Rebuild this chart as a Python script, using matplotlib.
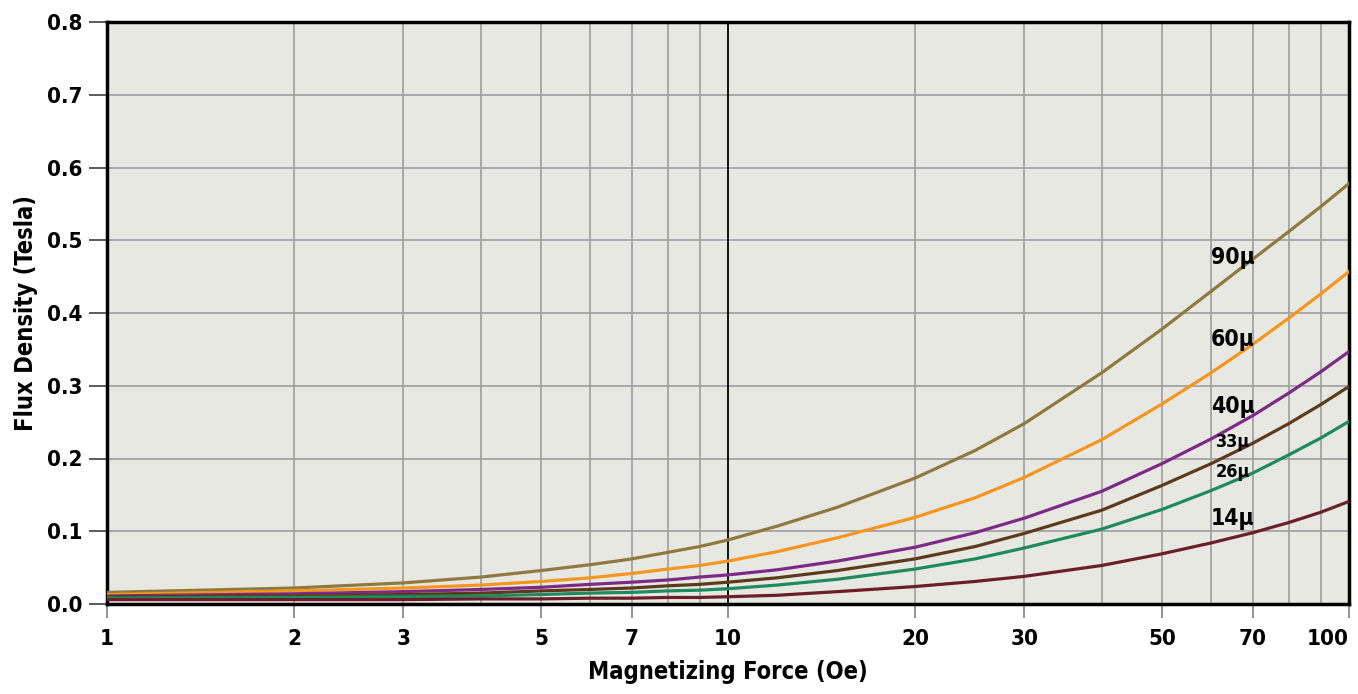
import numpy as np
import matplotlib.pyplot as plt
from matplotlib.ticker import FixedLocator, NullFormatter

# magnetizing force (Oe) sample points
H = [1, 2, 3, 4, 5, 6, 7, 8, 9, 10, 12, 15, 20, 25, 30, 40, 50, 60, 70, 80, 90, 100]

# flux density (Tesla)
B_90 = [0.016, 0.022, 0.029, 0.037, 0.046, 0.054, 0.062, 0.071, 0.079, 0.088, 0.107, 0.133,
        0.173, 0.211, 0.248, 0.318, 0.378, 0.430, 0.474, 0.512, 0.546, 0.578]
B_60 = [0.013, 0.018, 0.022, 0.026, 0.031, 0.036, 0.042, 0.048, 0.053, 0.059, 0.072, 0.091,
        0.119, 0.146, 0.174, 0.226, 0.275, 0.318, 0.357, 0.393, 0.426, 0.457]
B_40 = [0.011, 0.014, 0.017, 0.020, 0.023, 0.027, 0.030, 0.033, 0.037, 0.040, 0.047, 0.059,
        0.078, 0.098, 0.118, 0.155, 0.193, 0.227, 0.259, 0.290, 0.319, 0.347]
B_33 = [0.010, 0.011, 0.013, 0.015, 0.018, 0.020, 0.022, 0.025, 0.027, 0.030, 0.036, 0.046,
        0.062, 0.079, 0.097, 0.129, 0.163, 0.193, 0.221, 0.248, 0.274, 0.299]
B_26 = [0.008, 0.009, 0.010, 0.011, 0.013, 0.015, 0.016, 0.018, 0.019, 0.021, 0.026, 0.034,
        0.048, 0.062, 0.077, 0.103, 0.130, 0.156, 0.180, 0.205, 0.228, 0.251]
B_14 = [0.006, 0.006, 0.006, 0.007, 0.007, 0.008, 0.008, 0.009, 0.009, 0.010, 0.012, 0.017,
        0.024, 0.031, 0.038, 0.053, 0.069, 0.084, 0.098, 0.112, 0.126, 0.141]

labels = ['90μ', '60μ', '40μ', '33μ', '26μ', '14μ']
series = [B_90, B_60, B_40, B_33, B_26, B_14]
colors = ['#8e7a3e', '#f7961f', '#7d2a87', '#5d3a1c', '#1e8a5f', '#6a1f2a']
label_y = [0.476, 0.363, 0.271, 0.223, 0.182, 0.117]
label_size = [16.5, 16.5, 16.5, 13, 13, 16.5]

x_ticks = [1, 2, 3, 5, 7, 10, 20, 30, 50, 70, 100]
x_grid = [2, 3, 4, 5, 6, 7, 8, 9, 20, 30, 40, 50, 60, 70, 80, 90]
y_ticks = [0.0, 0.1, 0.2, 0.3, 0.4, 0.5, 0.6, 0.7, 0.8]

plt.rcParams['font.family'] = ['DejaVu Sans']
plt.rcParams['font.stretch'] = 'condensed'
plt.rcParams['font.weight'] = 'bold'

fig = plt.figure(figsize=(13.58, 6.94), dpi=100)
ax = fig.add_axes([107/1358, 1 - 604/694, (1349-107)/1358, (604-22)/694])
ax.set_facecolor('#e8e8e2')

ax.set_xscale('log')
ax.set_xlim(1, 100)
ax.set_ylim(0, 0.8)

for x in x_grid:
    ax.axvline(x, color='#a3a3a6', lw=1.3, zorder=1)
for y in y_ticks[1:-1]:
    ax.axhline(y, color='#a3a3a6', lw=1.3, zorder=1)
ax.axvline(10, color='black', lw=1.3, zorder=1)

for name, b, col, ly, fs in zip(labels, series, colors, label_y, label_size):
    ax.plot(H, b, color=col, lw=2.3, zorder=3)
    ax.text(65, ly, name, fontsize=fs, fontweight='bold', ha='center', va='center', zorder=4)

ax.xaxis.set_major_locator(FixedLocator(x_ticks))
ax.xaxis.set_minor_locator(FixedLocator([]))
xt = ax.set_xticklabels([str(v) for v in x_ticks])
xt[-1].set_ha('right')
ax.xaxis.set_minor_formatter(NullFormatter())
ax.set_yticks(y_ticks)
ax.set_yticklabels(['%.1f' % v for v in y_ticks])
ax.tick_params(axis='both', labelsize=16, width=1.2, direction='out')
ax.tick_params(axis='x', length=10, colors='#808080', labelcolor='black', pad=8)
ax.tick_params(axis='y', length=13, colors='#404040', labelcolor='black', pad=5)

for s in ax.spines.values():
    s.set_linewidth(2.5)
    s.set_color('black')

ax.set_xlabel('Magnetizing Force (Oe)', fontsize=17, fontweight='bold')
ax.set_ylabel('Flux Density (Tesla)', fontsize=17, fontweight='bold')
ax.xaxis.set_label_coords(0.5, (604 - 660) / 582)
ax.yaxis.set_label_coords((38 - 107) / 1242, 0.5)

fig.savefig('out.png', dpi=100)
